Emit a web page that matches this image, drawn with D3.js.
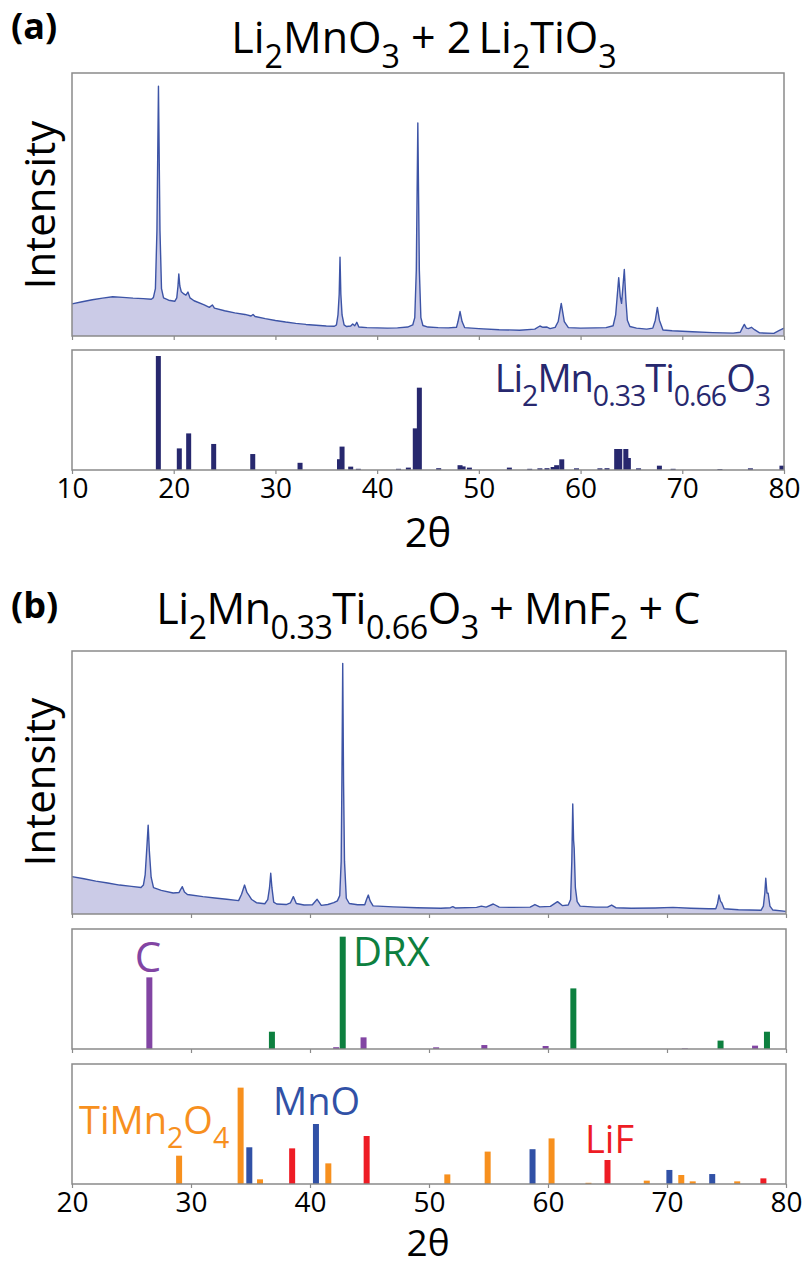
<!DOCTYPE html>
<html>
<head>
<meta charset="utf-8">
<script src="https://cdn.jsdelivr.net/npm/d3@7"></script>
<style>
  html, body { margin: 0; padding: 0; background: #fff; }
  svg { display: block; font-family: 'Open Sans', 'Noto Sans', sans-serif; }
</style>
</head>
<body>
<div id="chart"></div>
<script>
// XRD patterns (2theta, intensity in % of panel height)

// (a) Li2MnO3 + 2 Li2TiO3 measured pattern
const patternA = [
  [10, 12.2], [11, 13.0], [12, 13.8], [13, 14.4], [14, 14.9], [15, 14.7], [16, 14.4], [17, 14.2],
  [17.8, 14.0], [18.0, 14.6], [18.2, 18], [18.35, 40], [18.5, 95], [18.65, 40], [18.8, 18], [19.0, 14.5],
  [19.5, 13.6], [20.1, 13.2], [20.3, 14.5], [20.42, 19], [20.5, 23.6], [20.6, 19], [20.75, 16.8],
  [21.0, 16.0], [21.2, 15.5], [21.4, 16.7], [21.6, 14.5], [22.0, 13.4], [23.0, 11.8], [23.5, 10.9],
  [23.8, 11.8], [24.0, 10.6], [25, 9.6], [26, 8.8], [27, 8.2], [27.6, 7.6], [27.8, 8.2], [28.0, 7.4],
  [29, 6.6], [30, 5.9], [31, 5.3], [32, 4.8], [33, 4.4], [34, 4.1], [35, 3.8], [35.8, 3.7], [36.0, 4.2],
  [36.15, 8], [36.27, 16], [36.35, 30], [36.43, 16], [36.55, 8], [36.75, 4.2], [37.0, 3.6], [37.4, 3.8],
  [37.6, 4.6], [37.8, 3.9], [38.0, 5.2], [38.2, 3.4], [39, 3.2], [40, 3.1], [41, 3.0], [42, 3.1],
  [43.0, 3.4], [43.5, 4.2], [43.7, 7], [43.85, 25], [44.0, 81], [44.15, 25], [44.3, 7], [44.5, 4.0],
  [45, 3.4], [46, 3.2], [47, 3.1], [47.8, 3.3], [47.95, 5.5], [48.15, 9.3], [48.35, 5.5], [48.6, 3.2],
  [50, 2.8], [52, 2.4], [54, 2.2], [55.5, 2.6], [56.0, 3.8], [56.3, 3.3], [56.7, 3.4], [57.0, 2.8],
  [57.5, 3.3], [57.8, 5.5], [58.1, 12.4], [58.4, 5.5], [58.8, 3.2], [60, 3.0], [61.5, 3.1], [62.5, 3.2],
  [63.2, 3.9], [63.45, 8], [63.6, 15], [63.75, 22.2], [63.9, 15], [64.03, 12.4], [64.15, 18], [64.3, 25.3],
  [64.45, 14], [64.6, 6], [64.85, 3.6], [65.5, 3.0], [66.5, 2.6], [67.1, 3], [67.35, 6], [67.55, 10.9],
  [67.75, 6], [68.1, 2.3], [69, 2.0], [71, 1.6], [73, 1.3], [75, 1.1], [75.7, 1.4], [75.9, 3], [76.1, 4.4],
  [76.3, 3], [76.5, 2.8], [76.8, 3.3], [77.1, 2.4], [77.6, 1.2], [79.0, 1.0], [79.5, 2.0], [80, 3.0]
]

// (a) reference sticks, Li2Mn0.33Ti0.66O3
const sticksA = [
  [18.49, 95], [20.55, 18], [21.47, 30.5], [23.93, 21.7], [27.77, 13.3], [32.42, 6], [36.3, 9],
  [36.55, 19.5], [37.4, 2.8], [38.15, 1], [42.1, 1], [43.07, 2], [43.75, 34.7], [44.15, 68.6],
  [46.05, 1.5], [48.15, 4], [48.45, 3], [49.07, 2], [53.0, 2], [55.0, 1], [56.0, 1.4], [56.7, 1.5],
  [57.3, 2.5], [57.65, 4], [58.15, 8.9], [59.6, 1.4], [61.9, 1.4], [62.6, 1.5], [63.55, 17.5],
  [63.85, 17.5], [64.45, 17.5], [64.7, 10], [65.7, 1.4], [67.75, 3.6], [69.1, 1], [73.7, 0.8],
  [76.7, 1.4], [79.8, 3.6]
]

// (b) Li2Mn0.33Ti0.66O3 + MnF2 + C measured pattern
const patternB = [
  [20, 14.2], [21, 13.4], [22, 12.5], [23, 11.8], [24, 11.0], [25, 10.5], [25.8, 10.1], [26.0, 11],
  [26.15, 15], [26.3, 26], [26.4, 33.8], [26.5, 24], [26.65, 14], [26.85, 10], [27.5, 9.0], [28.5, 8.0],
  [29.0, 8.2], [29.15, 9.5], [29.27, 10.4], [29.45, 8.4], [29.7, 7.4], [31, 6.6], [32, 6.1], [33, 5.6],
  [34.0, 5.1], [34.25, 7.5], [34.5, 11], [34.7, 8.2], [34.9, 6.9], [35.1, 5.5], [35.5, 4.3], [36.2, 3.9],
  [36.45, 5.5], [36.6, 10], [36.7, 15.5], [36.8, 10], [36.95, 4.5], [37.2, 3.8], [38, 3.6], [38.35, 4.2],
  [38.6, 6.6], [38.85, 4], [39.5, 3.4], [40.2, 3.5], [40.6, 5.6], [40.95, 3.3], [41.5, 3.6], [42.0, 4.3],
  [42.3, 5], [42.5, 7], [42.62, 20], [42.68, 50], [42.75, 95.3], [42.82, 50], [42.9, 20], [43.05, 6],
  [43.3, 4.0], [44, 3.5], [44.6, 3.5], [44.75, 5.5], [44.9, 7.2], [45.05, 5], [45.3, 3.1], [47, 2.7],
  [49, 2.4], [51, 2.2], [51.8, 2.4], [52.0, 2.8], [52.2, 2.3], [54, 2.5], [54.4, 3.0], [54.8, 2.6],
  [55.4, 3.8], [55.9, 2.6], [57, 2.5], [58.5, 2.6], [58.9, 3.6], [59.3, 2.7], [60.2, 2.9], [60.8, 4.7],
  [61.2, 3.2], [61.7, 3.4], [61.9, 5.5], [62.0, 20], [62.08, 41.8], [62.15, 28], [62.2, 25], [62.3, 10],
  [62.45, 4.7], [62.7, 3.0], [64, 2.6], [65.0, 2.6], [65.35, 3.4], [65.7, 2.4], [67, 2.2], [69, 2.3],
  [70.5, 2.5], [72, 2.2], [73.5, 2.0], [74.1, 2.0], [74.25, 4], [74.37, 7.2], [74.5, 4.8], [74.6, 4.3],
  [74.8, 2], [76, 1.6], [77.9, 1.4], [78.1, 3], [78.22, 8], [78.3, 13.6], [78.4, 8], [78.5, 7.9],
  [78.65, 3], [78.9, 1.5], [80, 1.0]
]

// (b) reference sticks
const sticksC = [[26.5, 59.7], [42.2, 1.5], [44.5, 9.7], [50.6, 1.4], [54.65, 3.3], [59.8, 2.5], [71.5, 0.5], [77.4, 2.8]]
const sticksDRX = [[36.8, 14.4], [42.75, 93.6], [62.13, 50.5], [74.5, 7], [78.4, 14.4]]
const sticksTiMn2O4 = [
  [29.0, 23.6], [34.17, 80.3], [35.8, 3.9], [41.54, 17.2], [51.54, 8], [54.93, 27], [60.3, 38],
  [63.4, 1], [68.3, 2.8], [71.2, 7.5], [72.16, 2.2], [75.9, 2.2]
]
const sticksMnO = [[34.9, 30.6], [40.5, 50], [58.7, 29], [70.2, 11.7], [73.8, 8.3]]
const sticksLiF = [[38.5, 29.7], [44.76, 40], [65.0, 20], [78.1, 4.7]]

const ticksA = [10, 20, 30, 40, 50, 60, 70, 80]
const ticksB = [20, 30, 40, 50, 60, 70, 80]

const W = 808
const H = 1268
const FRAME = '#8a8a8a'
const LINE = '#3d54a6'
const FILL = '#cbcbe7'

const svg = d3.select('#chart')
  .append('svg')
  .attr('width', W)
  .attr('height', H)

svg.append('rect').attr('width', W).attr('height', H).attr('fill', '#fff')

/**
 * Append text with chemical subscripts. parts = [[text, isSub], ...]
 */
function richText(x, y, parts, size, color, anchor, spacing) {
  const t = svg.append('text')
    .attr('x', x)
    .attr('y', y)
    .attr('font-size', size)
    .attr('fill', color)
    .attr('text-anchor', anchor || 'start')
    .attr('letter-spacing', spacing || 0)
  const shift = size * 0.36
  let down = false
  parts.forEach(([s, sub]) => {
    const ts = t.append('tspan').text(s)
    if (sub && !down) { ts.attr('dy', shift); down = true }
    else if (!sub && down) { ts.attr('dy', -shift); down = false }
    ts.attr('font-size', sub ? size * 0.75 : size)
  })
  return t
}

/**
 * Frame plus bottom ticks (optionally labelled)
 */
function frame(x, top, bottom, ticks, labelSize) {
  const g = svg.append('g').attr('transform', `translate(0,${bottom})`)
  const axis = d3.axisBottom(x).tickValues(ticks).tickSize(4).tickPadding(4)
  if (!labelSize) axis.tickFormat('')
  g.call(axis)
  g.select('.domain').remove()
  g.selectAll('.tick line').attr('stroke', FRAME).attr('stroke-width', 1.2)
  g.selectAll('.tick text')
    .attr('fill', '#000')
    .attr('font-size', labelSize)
    .attr('font-family', "'Open Sans', sans-serif")

  svg.append('rect')
    .attr('x', x.range()[0])
    .attr('y', top)
    .attr('width', x.range()[1] - x.range()[0])
    .attr('height', bottom - top)
    .attr('fill', 'none')
    .attr('stroke', FRAME)
    .attr('stroke-width', 1.5)
}

/**
 * Measured pattern: filled area with a thin line on top
 */
function drawPattern(x, top, bottom, data) {
  const y = d3.scaleLinear().domain([0, 100]).range([bottom, top])
  const area = d3.area().x(d => x(d[0])).y0(bottom).y1(d => y(d[1]))
  const line = d3.line().x(d => x(d[0])).y(d => y(d[1]))
  svg.append('path').datum(data).attr('d', area).attr('fill', FILL)
  svg.append('path').datum(data).attr('d', line)
    .attr('fill', 'none').attr('stroke', LINE).attr('stroke-width', 1.4)
    .attr('stroke-linejoin', 'round')
}

/**
 * Reference stick pattern as thin bars
 */
function drawSticks(x, top, bottom, data, color, width) {
  const y = d3.scaleLinear().domain([0, 100]).range([bottom, top])
  svg.append('g').selectAll('rect')
    .data(data)
    .join('rect')
    .attr('x', d => x(d[0]) - width / 2)
    .attr('y', d => y(d[1]))
    .attr('width', width)
    .attr('height', d => bottom - y(d[1]))
    .attr('fill', color)
}

function yLabel(cy) {
  svg.append('text')
    .attr('transform', `translate(55,${cy}) rotate(-90)`)
    .attr('text-anchor', 'middle')
    .attr('font-size', 42)
    .text('Intensity')
}

function xLabel(y, size) {
  svg.append('text')
    .attr('x', 428)
    .attr('y', y)
    .attr('text-anchor', 'middle')
    .attr('font-size', size)
    .text('2θ')
}

function panelTag(y, s) {
  svg.append('text').attr('x', 11).attr('y', y)
    .attr('font-size', 36).attr('font-weight', 'bold').text(s)
}

// ---- Panel (a)
const xA = d3.scaleLinear().domain([10, 80]).range([72, 784])

panelTag(39, '(a)')
richText(424, 53, [['Li'], ['2', 1], ['MnO'], ['3', 1], [' + 2\u2009Li'], ['2', 1], ['TiO'], ['3', 1]], 43, '#000', 'middle')

drawPattern(xA, 73, 336, patternA)
frame(xA, 73, 336, ticksA, 0)
yLabel(205)

drawSticks(xA, 350, 470, sticksA, '#27286e', 5)
frame(xA, 350, 470, ticksA, 28)
richText(770, 392, [['Li'], ['2', 1], ['Mn'], ['0.33', 1], ['Ti'], ['0.66', 1], ['O'], ['3', 1]], 38, '#27286e', 'end', -1)
xLabel(547, 40)

// ---- Panel (b)
const xB = d3.scaleLinear().domain([20, 80]).range([72, 786])

panelTag(618, '(b)')
richText(428, 624, [['Li'], ['2', 1], ['Mn'], ['0.33', 1], ['Ti'], ['0.66', 1], ['O'], ['3', 1], [' + MnF'], ['2', 1], [' + C']], 43, '#000', 'middle', -0.5)

drawPattern(xB, 651, 914, patternB)
frame(xB, 651, 914, ticksB, 0)
yLabel(782)

drawSticks(xB, 929, 1049, sticksC, '#8245a3', 6)
drawSticks(xB, 929, 1049, sticksDRX, '#0d803f', 6)
frame(xB, 929, 1049, ticksB, 0)
richText(148, 972, [['C']], 42, '#8245a3', 'middle')
richText(353, 966, [['DRX']], 40, '#0d803f', 'start')

drawSticks(xB, 1064, 1184, sticksTiMn2O4, '#f7901e', 6)
drawSticks(xB, 1064, 1184, sticksMnO, '#3151a6', 6)
drawSticks(xB, 1064, 1184, sticksLiF, '#ee1c25', 6)
frame(xB, 1064, 1184, ticksB, 28)
richText(79, 1134, [['TiMn'], ['2', 1], ['O'], ['4', 1]], 38, '#f7901e', 'start')
richText(273, 1115, [['MnO']], 38, '#3151a6', 'start')
richText(585, 1153, [['LiF']], 38, '#ee1c25', 'start')
xLabel(1256, 37)
</script>
</body>
</html>
